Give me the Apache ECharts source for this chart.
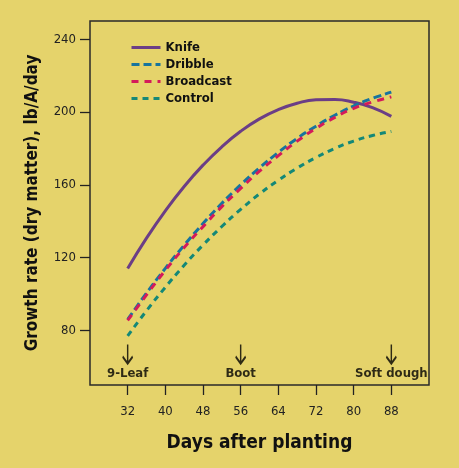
<!DOCTYPE html>
<html><head><meta charset="utf-8">
<script src="https://cdn.jsdelivr.net/npm/echarts@6/dist/echarts.min.js"></script>
<style>html,body{margin:0;padding:0;background:#e5d36b;}#c{width:459px;height:468px;}</style>
</head><body><div id="c"></div>
<script>
var days = [32,36,40,44,48,52,56,60,64,68,72,76,80,84,88];
var knife = [114.0,130.7,145.7,159.1,170.8,180.9,189.4,196.2,201.3,204.8,206.7,206.9,205.4,202.4,197.6];
var dribble = [86.0,100.5,114.1,126.8,138.7,149.8,160.0,169.3,177.8,185.5,192.2,198.2,203.3,207.5,210.9];
var broadcast = [85.5,99.5,113.0,125.5,137.0,148.0,158.0,167.5,176.0,184.0,191.0,197.0,202.0,205.5,208.3];
var control = [77.0,90.8,103.7,115.8,126.9,137.1,146.5,155.0,162.5,169.2,175.0,180.0,184.0,187.1,189.3];
var xTicks = [32,40,48,56,64,72,80,88];
var yTicks = [80,120,160,200,240];
var stageDays = [32,56,88];
var stageNames = ['9-Leaf','Boot','Soft dough'];
var stageY = 67;

var FONT = "'Liberation Sans Narrow','DejaVu Sans Condensed','Roboto Condensed',sans-serif";
function pairs(v){ return days.map(function(d,i){return [d,v[i]];}); }
function lineSeries(name, vals, color, dash){
  return {name:name, type:'line', data:pairs(vals), smooth:true, showSymbol:false, symbol:'none',
    lineStyle:{color:color, width:3, type:dash}, itemStyle:{color:color}, z:3};
}
var chart = echarts.init(document.getElementById('c'), null, {renderer:'canvas'});
chart.setOption({
  backgroundColor:'#e5d36b',
  animation:false,
  textStyle:{fontFamily:FONT},
  grid:{left:90, top:21, right:30, bottom:83, show:true, borderColor:'#2a2a2a', borderWidth:1.5, backgroundColor:'transparent'},
  legend:{orient:'vertical', left:125, top:36, itemWidth:29, itemHeight:14, itemGap:4,
    data:['Knife','Dribble','Broadcast','Control'],
    itemStyle:{opacity:0},
    lineStyle:{width:3},
    textStyle:{fontFamily:FONT, fontWeight:'bold', fontSize:13, color:'#111'}},
  xAxis:{type:'value', min:24, max:96,
    name:'Days after planting', nameLocation:'middle', nameGap:49,
    nameTextStyle:{fontFamily:FONT, fontWeight:'bold', fontSize:19, color:'#111'},
    axisLine:{show:false}, splitLine:{show:false},
    axisTick:{show:true, inside:false, length:10, customValues:xTicks, lineStyle:{color:'#222', width:1.3}},
    axisLabel:{customValues:xTicks, margin:20, fontSize:13, color:'#222', fontFamily:FONT}},
  yAxis:{type:'value', min:50, max:250,
    name:'Growth rate (dry matter), lb/A/day', nameLocation:'middle', nameGap:49,
    nameTextStyle:{fontFamily:FONT, fontWeight:'bold', fontSize:17, color:'#111'},
    axisLine:{show:false}, splitLine:{show:false},
    axisTick:{show:true, inside:false, length:10, customValues:yTicks, lineStyle:{color:'#222', width:1.3}},
    axisLabel:{customValues:yTicks, margin:14, fontSize:13, color:'#222', fontFamily:FONT}},
  series:[
    lineSeries('Knife', knife, '#6b3e86', 'solid'),
    lineSeries('Dribble', dribble, '#17749e', [8,4]),
    lineSeries('Broadcast', broadcast, '#d41a5a', [7,6]),
    lineSeries('Control', control, '#148877', [6,5]),
    {name:'stages', type:'scatter', silent:true, z:4,
     data: stageDays.map(function(d,i){return {value:[d,stageY], name:stageNames[i]};}),
     symbol:'path://M5,0 L5,19 M0.5,12 L5,19 L9.5,12', symbolSize:[10,19],
     itemStyle:{color:'rgba(0,0,0,0)', borderColor:'#000', borderWidth:2},
     label:{show:true, position:'bottom', distance:2, formatter:function(p){return p.name;},
       fontFamily:FONT, fontWeight:'bold', fontSize:13, color:'#000'}}
  ]
});
</script></body></html>
